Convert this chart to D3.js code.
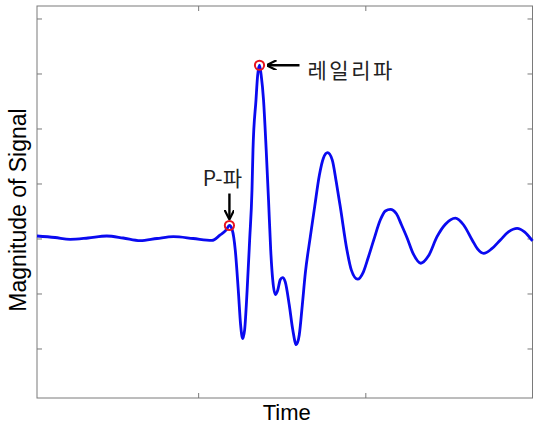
<!DOCTYPE html>
<html>
<head>
<meta charset="utf-8">
<script src="https://cdn.jsdelivr.net/npm/d3@7"></script>
<style>
  body { margin: 0; background: #fff; }
  svg { display: block; }
</style>
</head>
<body>
<div id="chart"></div>
<script>
// signal samples: time and magnitude
var times = [36, 144, 234, 341, 453, 551, 653, 754, 852, 970, 1082, 1132, 1168, 1187,
  1204, 1222, 1240, 1254, 1266, 1278, 1293, 1308, 1322, 1328, 1346, 1356, 1367,
  1377, 1391, 1407, 1421, 1434, 1446, 1461, 1476, 1491, 1505, 1521, 1545, 1566,
  1587, 1605, 1623, 1641, 1671, 1697, 1725, 1749, 1774, 1802, 1826, 1850, 1890,
  1916, 1954, 1988, 2018, 2050, 2090, 2120, 2150, 2186, 2216, 2250, 2287, 2332,
  2377, 2429, 2479, 2539, 2587, 2639, 2671, 2708, 2755, 2808, 2856, 2908, 2952, 3000]
var values = [0.045, 0.018, -0.015, 0.009, 0.045, 0.009, -0.04, 0, 0.033, 0, -0.036, 0.064, 0.155, 0.236,
  0.155, -0.21, -0.94, -1.57, -1.82, -1.66, -0.94, -0.03, 0.88, 1.61, 2.52, 2.97, 3.15,
  2.97, 2.52, 1.61, 0.70, -0.21, -0.75, -1.02, -0.94, -0.75, -0.71, -0.79, -1.21, -1.66,
  -1.93, -1.75, -1.21, -0.63, 0.033, 0.58, 1.15, 1.46, 1.56, 1.43, 1.03, 0.58, -0.21,
  -0.57, -0.74, -0.61, -0.34, -0.03, 0.34, 0.5, 0.53, 0.45, 0.25, 0.01, -0.28, -0.45,
  -0.32, 0.033, 0.26, 0.37, 0.25, -0.027, -0.19, -0.27, -0.19, -0.027, 0.12, 0.185, 0.12, -0.045]

var xTicks = [1000, 2000]
var yTicks = [-2, -1, 0, 1, 2, 3, 4]

// marked arrivals (index into the samples)
var markers = [
  {label: "P-파", i: 13},
  {label: "레일리파", i: 26}
]

var width = 536
var height = 427
var axLeft = 37, axRight = 532.5, axTop = 6, axBottom = 398

var svg = d3.select("#chart").append("svg").attr("width", width).attr("height", height)

var x = d3.scaleLinear().domain([36, 3000]).range([axLeft, axRight])
var y = d3.scaleLinear().domain([-2.9, 4.227]).range([axBottom, axTop])

var data = times.map(function(t, i){ return {t: t, v: values[i]} })

var axisColor = "#7a7a7a"

// box
svg.append("rect")
  .attr("x", axLeft).attr("y", axTop)
  .attr("width", axRight - axLeft).attr("height", axBottom - axTop)
  .attr("fill", "none").attr("stroke", axisColor).attr("stroke-width", 1)

// ticks pointing inward on all four sides
svg.append("g").attr("transform", "translate(0," + axBottom + ")")
  .call(d3.axisTop(x).tickValues(xTicks).tickSize(5).tickFormat(""))
svg.append("g").attr("transform", "translate(0," + axTop + ")")
  .call(d3.axisBottom(x).tickValues(xTicks).tickSize(5).tickFormat(""))
svg.append("g").attr("transform", "translate(" + axLeft + ",0)")
  .call(d3.axisRight(y).tickValues(yTicks).tickSize(5).tickFormat(""))
svg.append("g").attr("transform", "translate(" + axRight + ",0)")
  .call(d3.axisLeft(y).tickValues(yTicks).tickSize(5).tickFormat(""))
svg.selectAll(".domain").remove()
svg.selectAll(".tick line").attr("stroke", axisColor)

// the signal
var line = d3.line()
  .x(function(d){ return x(d.t) })
  .y(function(d){ return y(d.v) })
  .curve(d3.curveMonotoneX)

svg.append("path")
  .datum(data)
  .attr("d", line)
  .attr("fill", "none")
  .attr("stroke", "#0a0af0")
  .attr("stroke-width", 2.8)
  .attr("stroke-linejoin", "round")

// red circles
svg.selectAll(".mark")
  .data(markers)
  .enter().append("circle")
  .attr("class", "mark")
  .attr("cx", function(d){ return x(times[d.i]) })
  .attr("cy", function(d){ return y(values[d.i]) })
  .attr("r", 4.6)
  .attr("fill", "none")
  .attr("stroke", "#e8141e")
  .attr("stroke-width", 2)

// arrow heads
svg.append("defs").append("marker")
  .attr("id", "head")
  .attr("viewBox", "0 0 10 10")
  .attr("refX", 9).attr("refY", 5)
  .attr("markerWidth", 10).attr("markerHeight", 10)
  .attr("markerUnits", "userSpaceOnUse")
  .attr("orient", "auto")
  .append("path")
  .attr("d", "M0,0 L10,5 L0,10")
  .attr("fill", "none").attr("stroke", "#000").attr("stroke-width", 2.2)

var p = markers[0], r = markers[1]
var px = x(times[p.i]), py = y(values[p.i])
var rx = x(times[r.i]), ry = y(values[r.i])

svg.append("line")
  .attr("x1", px).attr("y1", py - 32).attr("x2", px).attr("y2", py - 7)
  .attr("stroke", "#000").attr("stroke-width", 2.4).attr("marker-end", "url(#head)")
svg.append("line")
  .attr("x1", rx + 40).attr("y1", ry).attr("x2", rx + 8).attr("y2", ry)
  .attr("stroke", "#000").attr("stroke-width", 2.4).attr("marker-end", "url(#head)")

var kfont = "'Noto Sans CJK KR', 'Noto Sans', sans-serif"
svg.append("text")
  .attr("x", px - 7).attr("y", py - 40)
  .attr("text-anchor", "middle")
  .attr("font-family", kfont).attr("font-size", "21px").attr("fill", "#222")
  .text(p.label)
svg.append("text")
  .attr("x", rx + 48).attr("y", ry + 13)
  .attr("font-family", kfont).attr("font-size", "21px").attr("fill", "#222")
  .attr("letter-spacing", "2.5px")
  .text(r.label)

// axis labels
svg.append("text")
  .attr("x", (axLeft + axRight) / 2 + 2).attr("y", 420)
  .attr("text-anchor", "middle")
  .attr("font-family", "'Liberation Sans', Arial, sans-serif").attr("font-size", "22px")
  .text("Time")
svg.append("text")
  .attr("transform", "translate(26," + ((axTop + axBottom) / 2 + 8) + ") rotate(-90)")
  .attr("text-anchor", "middle")
  .attr("font-family", "'Liberation Sans', Arial, sans-serif").attr("font-size", "23px")
  .text("Magnitude of Signal")
</script>
</body>
</html>
